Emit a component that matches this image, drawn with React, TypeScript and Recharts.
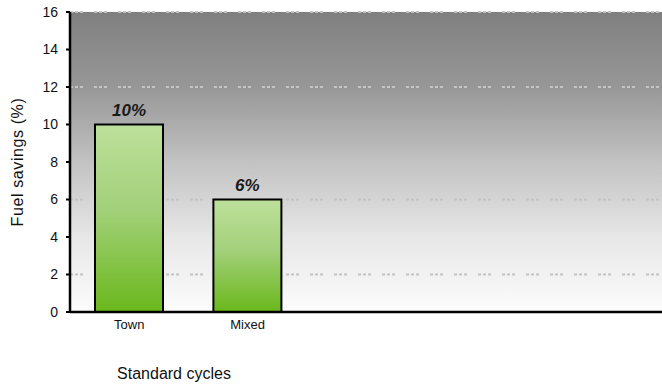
import React from 'react';
import { BarChart, Bar, XAxis, YAxis, CartesianGrid, LabelList } from 'recharts';

// Drive cycles on the category axis (the trailing slots are left blank)
const cycles = ['Town', 'Mixed', '', '', ''];
// Fuel savings per cycle, in percent
const savings: (number | null)[] = [10, 6, null, null, null];
const savingsLabels = ['10%', '6%', '', '', ''];
const yTicks = [0, 2, 4, 6, 8, 10, 12, 14, 16];
const gridValues = [2, 6, 12, 16];

const data = cycles.map((cycle, i) => ({
  id: `c${i}`,
  cycle,
  savings: savings[i],
  label: savingsLabels[i],
}));

const FONT = '"Liberation Sans", Arial, sans-serif';

const YTitle = (props: any) => {
  const { viewBox } = props;
  const cx = viewBox.x + 17;
  const cy = viewBox.y + viewBox.height / 2;
  return (
    <text
      x={cx}
      y={cy}
      transform={`rotate(-90 ${cx} ${cy})`}
      textAnchor="middle"
      dominantBaseline="central"
      fontFamily={FONT}
      fontSize={16}
      letterSpacing={0.6}
      fill="#111"
    >
      Fuel savings (%)
    </text>
  );
};

const XTitle = (props: any) => {
  const { viewBox } = props;
  return (
    <text
      x={viewBox.x + 104}
      y={viewBox.y + 67}
      textAnchor="middle"
      fontFamily={FONT}
      fontSize={16}
      fill="#111"
    >
      Standard cycles
    </text>
  );
};

export default function App() {
  return (
    <div style={{ position: 'absolute', left: 0, top: 0 }}>
      <BarChart
        width={662}
        height={385}
        data={data}
        margin={{ top: 12, right: 0, left: 0, bottom: 0 }}
      >
        <defs>
          <linearGradient id="plotBg" x1="0" y1="0" x2="0" y2="1">
            <stop offset="0%" stopColor="#7f7f7f" />
            <stop offset="25%" stopColor="#979797" />
            <stop offset="50%" stopColor="#c2c2c2" />
            <stop offset="75%" stopColor="#e7e7e7" />
            <stop offset="100%" stopColor="#fcfcfc" />
          </linearGradient>
          <linearGradient id="barFill" x1="0" y1="0" x2="0" y2="1">
            <stop offset="0%" stopColor="#bde09b" />
            <stop offset="45%" stopColor="#a3d07a" />
            <stop offset="100%" stopColor="#6ab81c" />
          </linearGradient>
        </defs>
        <CartesianGrid
          vertical={false}
          horizontalValues={gridValues}
          stroke="#c4c4c4"
          strokeWidth={2}
          strokeDasharray="3 2 3 2 3 11"
          fill="url(#plotBg)"
          fillOpacity={1}
        />
        <XAxis
          dataKey="id"
          tickFormatter={(_v: any, i: number) => data[i]?.cycle ?? ''}
          tickLine={false}
          tickSize={6}
          tickMargin={2}
          height={73}
          axisLine={{ stroke: '#000', strokeWidth: 2.5 }}
          tick={{ fill: '#111', fontSize: 13, fontFamily: FONT }}
          interval={0}
          label={<XTitle />}
        />
        <YAxis
          width={70}
          domain={[0, 16]}
          ticks={yTicks}
          interval={0}
          tickSize={4}
          tickMargin={8}
          axisLine={{ stroke: '#000', strokeWidth: 2.5 }}
          tickLine={{ stroke: '#000', strokeWidth: 2 }}
          tick={{ fill: '#111', fontSize: 14, fontFamily: FONT }}
          label={<YTitle />}
        />
        <Bar
          dataKey="savings"
          barSize={68}
          fill="url(#barFill)"
          stroke="#000"
          strokeWidth={2}
          isAnimationActive={false}
        >
          <LabelList
            dataKey="label"
            position="top"
            offset={9}
            fill="#1a1a1a"
            fontSize={17}
            fontWeight="bold"
            fontStyle="italic"
            fontFamily={FONT}
          />
        </Bar>
      </BarChart>
    </div>
  );
}
